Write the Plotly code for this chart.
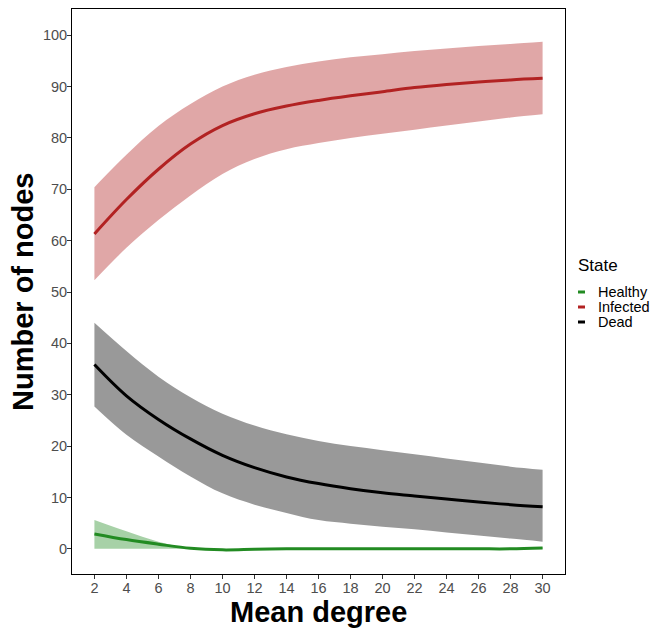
import plotly.graph_objects as go

mean_degree = [2, 4, 6, 8, 10, 12, 14, 16, 18, 20, 22, 24, 26, 28, 30]

infected_mean = [61.3, 68.0, 73.9, 78.8, 82.4, 84.7, 86.2, 87.3, 88.2, 89.0, 89.8, 90.4, 90.9, 91.3, 91.6]
infected_upper = [70.4, 76.7, 82.3, 86.6, 90.0, 92.3, 93.8, 94.9, 95.7, 96.3, 96.9, 97.4, 97.9, 98.3, 98.7]
infected_lower = [52.3, 58.6, 64.0, 68.8, 73.0, 75.9, 77.8, 79.0, 80.0, 80.8, 81.6, 82.4, 83.2, 84.0, 84.6]

dead_mean = [35.9, 29.8, 25.2, 21.4, 18.2, 15.8, 14.0, 12.7, 11.7, 10.9, 10.3, 9.7, 9.1, 8.6, 8.2]
dead_upper = [44.0, 38.5, 33.5, 29.5, 26.3, 24.0, 22.3, 21.0, 20.0, 19.2, 18.4, 17.6, 16.8, 16.0, 15.4]
dead_lower = [27.7, 22.2, 18.0, 14.1, 10.8, 8.6, 7.0, 5.6, 4.9, 4.3, 3.8, 3.2, 2.6, 2.0, 1.4]

healthy_mean = [2.9, 1.8, 0.9, 0.1, -0.2, -0.1, 0.0, 0.0, 0.0, 0.0, 0.0, 0.0, 0.0, 0.0, 0.15]
healthy_upper = [5.6, 3.4, 1.4, 0.1, -0.2, -0.1, 0.0, 0.0, 0.0, 0.0, 0.0, 0.0, 0.0, 0.0, 0.3]
healthy_lower = [0.0, 0.0, 0.0, 0.0, -0.2, -0.1, 0.0, 0.0, 0.0, 0.0, 0.0, 0.0, 0.0, 0.0, 0.0]

states = ["Healthy", "Infected", "Dead"]
x_ticks = list(range(2, 31, 2))
y_ticks = list(range(0, 101, 10))

FONT = "Liberation Sans, Arial, sans-serif"

series = [
    ("Dead", dead_mean, dead_upper, dead_lower, "#000000", "rgba(0,0,0,0.4)"),
    ("Infected", infected_mean, infected_upper, infected_lower, "#B22222", "rgba(178,34,34,0.4)"),
    ("Healthy", healthy_mean, healthy_upper, healthy_lower, "#228B22", "rgba(34,139,34,0.4)"),
]
colors = {s[0]: s[4] for s in series}

fig = go.Figure()
for name, m, up, lo, col, fillc in series:
    fig.add_trace(go.Scatter(x=mean_degree, y=lo, mode="lines", line=dict(width=0, shape="spline"),
                             showlegend=False, hoverinfo="skip"))
    fig.add_trace(go.Scatter(x=mean_degree, y=up, mode="lines", line=dict(width=0, shape="spline"),
                             fill="tonexty", fillcolor=fillc, showlegend=False, hoverinfo="skip"))
for name, m, up, lo, col, fillc in series:
    fig.add_trace(go.Scatter(x=mean_degree, y=m, mode="lines", name=name,
                             line=dict(color=col, width=3, shape="spline"), showlegend=False))

W, H = 657, 629
L, R, T, B = 72, 92, 9, 55
pw, ph = W - L - R, H - T - B


def px(xp):
    return (xp - L) / pw


def py(yp):
    return 1 - (yp - T) / ph


annotations = [
    dict(x=px(576), y=py(265), xref="paper", yref="paper", text="State", showarrow=False,
         xanchor="left", yanchor="middle", font=dict(size=17, color="black", family=FONT)),
    dict(x=px(318.5), y=py(629), xref="paper", yref="paper", text="<b>Mean degree</b>", showarrow=False,
         xanchor="center", yanchor="bottom", borderpad=0, font=dict(size=29, color="black", family=FONT)),
    dict(x=px(6), y=py(292), xref="paper", yref="paper", text="<b>Number of nodes</b>", showarrow=False,
         textangle=-90, xanchor="left", yanchor="middle", borderpad=0, font=dict(size=29, color="black", family=FONT)),
]
shapes = []
legend_y = [292, 307, 322]
for st, yy in zip(states, legend_y):
    shapes.append(dict(type="line", xref="paper", yref="paper", x0=px(578), x1=px(585),
                       y0=py(yy), y1=py(yy), line=dict(color=colors[st], width=3)))
    annotations.append(dict(x=px(596), y=py(yy), xref="paper", yref="paper", text=st, showarrow=False,
                            xanchor="left", yanchor="middle", font=dict(size=14.5, color="black", family=FONT)))

fig.update_layout(
    width=W, height=H,
    margin=dict(l=L, r=R, t=T, b=B, autoexpand=False),
    plot_bgcolor="white", paper_bgcolor="white",
    font=dict(family=FONT),
    showlegend=False,
    annotations=annotations,
    shapes=shapes,
    xaxis=dict(range=[0.6, 31.4], tickvals=x_ticks, ticktext=[str(v) for v in x_ticks],
               showgrid=False, zeroline=False, showline=True, linecolor="black", linewidth=1, mirror=True,
               ticks="outside", ticklen=4, tickcolor="#333333", tickwidth=1, automargin=False,
               ticklabelstandoff=-3,
               tickfont=dict(size=14.5, color="#4D4D4D", family=FONT)),
    yaxis=dict(range=[-4.9, 105.1], tickvals=y_ticks, ticktext=[str(v) for v in y_ticks],
               showgrid=False, zeroline=False, showline=True, linecolor="black", linewidth=1, mirror=True,
               ticks="outside", ticklen=4, tickcolor="#333333", tickwidth=1, automargin=False,
               ticklabelstandoff=-3,
               tickfont=dict(size=14.5, color="#4D4D4D", family=FONT)),
)

fig.write_html("out.html")
